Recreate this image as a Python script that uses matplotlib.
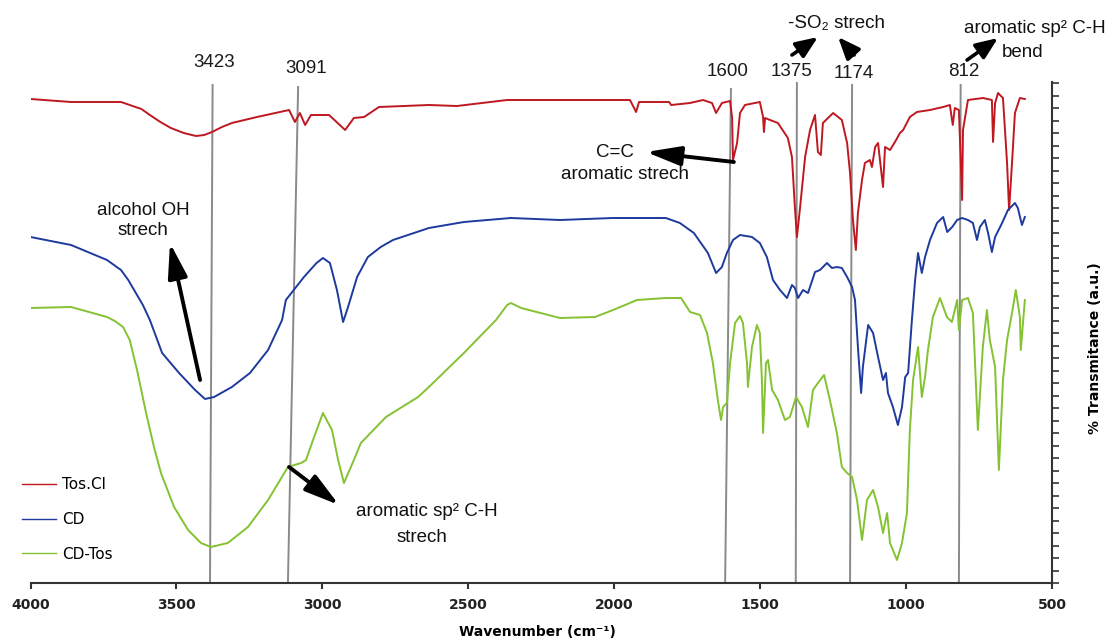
import numpy as np
import matplotlib
matplotlib.use('Agg')
import matplotlib.pyplot as plt
from matplotlib.lines import Line2D

# ---------------- data (wavenumber cm-1, transmittance a.u.) ----------------
red_wn = [4000, 3861, 3690, 3620, 3591, 3555, 3519, 3475, 3433, 3405, 3378, 3344, 3310, 3224,
          3114, 3094, 3077, 3059, 3039,
          2977, 2922, 2892, 2857, 2806, 2635, 2539, 2367, 2186, 1946, 1925, 1915, 1812, 1805,
          1740, 1696, 1665, 1651, 1631, 1603, 1596, 1593, 1579, 1569, 1552, 1501, 1490, 1487,
          1483, 1466, 1439, 1405, 1391, 1381, 1374, 1363, 1346, 1329, 1312, 1302, 1292, 1285,
          1250, 1220, 1202, 1192, 1182, 1172, 1165, 1151, 1141, 1124, 1117, 1106, 1096, 1079,
          1072, 1055, 1038, 1021, 1010, 987, 963, 918, 873, 850, 840, 833, 819, 808, 805, 788,
          736, 706, 702, 695, 685, 668, 654, 647, 637, 627, 610, 593]
red_t = [484, 481, 481, 474, 468, 461, 455, 450, 447, 448, 451, 456, 460, 466,
         473, 461, 470, 458, 468,
         468, 453, 465, 466, 476, 478, 477, 483, 483, 483, 471, 481, 481, 478,
         480, 483, 480, 470, 480, 482, 465, 423, 440, 470, 478, 481, 466, 451,
         465, 463, 460, 445, 426, 376, 346, 376, 426, 453, 468, 431, 428, 460,
         470, 463, 440, 410, 363, 333, 370, 403, 420, 423, 416, 436, 440, 396,
         436, 433, 441, 450, 453, 466, 471, 473, 476, 478, 458, 475, 473, 383, 453, 483,
         485, 483, 441, 480, 490, 485, 420, 373, 420, 470, 485, 484]

blue_wn = [4000, 3861, 3738, 3690, 3665, 3639, 3615, 3591, 3549, 3491, 3436, 3402, 3371, 3310,
           3248, 3186, 3138, 3125, 3063, 3020, 2998, 2974, 2950, 2929, 2912, 2881, 2844, 2800,
           2758, 2635, 2515, 2354,
           2186, 2004, 1823, 1775, 1727, 1679, 1651, 1631, 1614, 1593, 1569, 1528, 1501, 1477,
           1456, 1432, 1408, 1391, 1381, 1370, 1353, 1336, 1312, 1295, 1271, 1254, 1237, 1220,
           1202, 1185, 1175, 1165, 1154, 1148, 1130, 1113, 1096, 1079, 1069, 1062, 1045, 1028,
           1014, 1003, 993, 980, 969, 959, 946, 935, 918, 894, 873, 859, 842, 825, 808, 788,
           771, 757, 747, 730, 719, 706, 695, 671, 651, 627, 617, 603, 593]
blue_t = [346, 338, 323, 313, 303, 290, 278, 263, 230, 210, 193, 184, 186, 196,
          210, 233, 263, 283, 306, 320, 325, 320, 293, 261, 276, 306, 326, 336,
          343, 355, 361, 365,
          363, 365, 365, 360, 350, 330, 310, 316, 330, 343, 348, 346, 340, 326,
          303, 293, 285, 298, 295, 285, 293, 290, 311, 313, 320, 315, 316, 315,
          306, 296, 283, 236, 190, 216, 258, 250, 226, 203, 210, 190, 176, 158,
          176, 206, 210, 263, 303, 330, 310, 326, 343, 360, 366, 351, 356, 363, 365, 363,
          360, 343, 356, 363, 350, 331, 346, 360, 373, 380, 375, 358, 366]

green_wn = [4000, 3861, 3738, 3711, 3683, 3660, 3635, 3604, 3577, 3553, 3508, 3460, 3416, 3382,
            3324, 3255, 3186, 3118, 3073, 3056, 3032, 2998, 2967, 2946, 2926, 2892, 2868, 2782,
            2672, 2635,
            2515, 2405, 2367, 2354, 2319, 2186, 2066, 2004, 1922, 1823, 1771, 1740, 1706, 1682,
            1662, 1645, 1634, 1627, 1614, 1603, 1586, 1569, 1559, 1545, 1542, 1528, 1511, 1501,
            1494, 1490, 1480, 1473, 1459, 1439, 1415, 1398, 1377, 1357, 1336, 1319, 1302, 1281,
            1261, 1237, 1220, 1202, 1185, 1168, 1151, 1134, 1113, 1096, 1079, 1065, 1055, 1031,
            1014, 997, 987, 976, 959, 946, 935, 925, 908, 884, 860, 843, 825, 819, 808, 788,
            771, 754, 737, 723, 713, 695, 682, 668, 654, 637, 624, 610, 607, 593]
green_t = [275, 276, 266, 262, 256, 243, 213, 170, 136, 110, 76, 53, 40, 36,
           40, 56, 83, 116, 120, 123, 143, 170, 153, 123, 100, 123, 140, 166,
           186, 196,
           230, 263, 278, 280, 275, 265, 266, 273, 283, 285, 285, 271, 268, 250,
           220, 183, 163, 176, 180, 220, 260, 267, 260, 220, 196, 236, 258, 250,
           203, 150, 220, 223, 193, 183, 163, 166, 186, 176, 156, 193, 200, 208,
           183, 150, 116, 110, 106, 83, 43, 83, 93, 76, 50, 70, 40, 23,
           40, 70, 153, 203, 236, 186, 206, 233, 266, 285, 266, 261, 283, 253, 283, 285,
           270, 153, 236, 273, 243, 216, 113, 203, 243, 270, 293, 266, 233, 283]

series_names = ['Tos.Cl', 'CD', 'CD-Tos']
series_colors = ['#bf1820', '#1d3a9c', '#84c232']

peak_labels = ['3423', '3091', '1600', '1375', '1174', '812']
peak_line_top_wn = [3376, 3083, 1600, 1374, 1185, 813]
peak_line_bottom_wn = [3385, 3118, 1620, 1378, 1192, 819]
peak_line_top_t = [498, 496, 494, 500, 498, 498]
peak_label_wn = [3371, 3056, 1610, 1391, 1178, 802]
peak_label_t = [521, 515, 511, 511, 509, 511]

x_ticks = [4000, 3500, 3000, 2500, 2000, 1500, 1000, 500]

# ---------------- figure ----------------
W, H = 1112, 641
fig = plt.figure(figsize=(W / 100, H / 100), dpi=100)
ax = fig.add_axes([30.5 / W, 58 / H, (1052 - 30.5) / W, 501 / H])

for wn, t, c in zip([red_wn, blue_wn, green_wn], [red_t, blue_t, green_t], series_colors):
    ax.plot(wn, t, color=c, lw=1.4, solid_joinstyle='round')

for xt, xb, yt in zip(peak_line_top_wn, peak_line_bottom_wn, peak_line_top_t):
    ax.plot([xt, xb], [yt, 0], color='#8a8a8a', lw=1.4, zorder=1)

sans = ['Liberation Sans', 'DejaVu Sans']
for lab, xw, yt in zip(peak_labels, peak_label_wn, peak_label_t):
    ax.text(xw, yt, lab, ha='center', va='center', fontsize=13.5, family=sans,
            color='#1a1a1a', clip_on=False)

ax.set_xlim(4000, 500)
ax.set_ylim(0, 501)
ax.set_xticks(x_ticks)
ax.set_xticklabels([str(v) for v in x_ticks], fontsize=10, fontweight='bold',
                   family='DejaVu Sans', color='#222222')
ax.yaxis.tick_right()
ax.set_yticks(np.arange(0, 502, 12.5))
ax.tick_params(axis='y', direction='out', length=5, width=1.2, labelright=False,
               color='#333333')
ax.tick_params(axis='x', direction='out', length=4, width=1.5, pad=7, color='#333333')
for s in ['left', 'top']:
    ax.spines[s].set_visible(False)
for s in ['bottom', 'right']:
    ax.spines[s].set_linewidth(1.5)
    ax.spines[s].set_color('#333333')

fig.text(537 / W, 1 - 632 / H, 'Wavenumber (cm⁻¹)', ha='center', va='center',
         fontsize=10, fontweight='bold', family='DejaVu Sans')
fig.text(1095 / W, 1 - 348 / H, '% Transmitance (a.u.)', ha='center', va='center',
         rotation=90, fontsize=10, fontweight='bold', family='DejaVu Sans')

# ---------------- annotations ----------------
big_arrow = dict(arrowstyle='-|>,head_length=1.5,head_width=0.42', lw=2.8, color='black',
                 mutation_scale=14, shrinkA=0, shrinkB=0)
small_arrow = dict(arrowstyle='-|>,head_length=1.1,head_width=0.45', lw=2.6, color='black',
                   mutation_scale=12, shrinkA=0, shrinkB=0)


def arrow(tail, head, style=big_arrow):
    ax.annotate('', xy=head, xytext=tail, xycoords='data', textcoords='data',
                arrowprops=style, annotation_clip=False)


def label(x, y, s):
    ax.text(x, y, s, ha='center', va='center', fontsize=13.5, family=sans,
            color='#111111', clip_on=False)


label(3615, 373, 'alcohol OH')
label(3615, 353, 'strech')
arrow((3419, 203), (3522, 340))

label(1997, 431, 'C=C')
label(1963, 409, 'aromatic strech')
arrow((1590, 421), (1891, 431))

label(1240, 560, '-SO₂ strech')
arrow((1391, 528), (1302, 546), small_arrow)
arrow((1178, 528), (1233, 546), small_arrow)

label(558, 555, 'aromatic sp² C-H')
label(599, 531, 'bend')
arrow((791, 523), (685, 545), small_arrow)

label(2641, 71, 'aromatic sp² C-H')
label(2658, 46, 'strech')
arrow((3114, 116), (2943, 78))

handles = [Line2D([], [], color=c, lw=1.0) for c in series_colors]
ax.legend(handles, series_names, loc='upper left', bbox_to_anchor=(22 / W, 1 - 477 / H),
          bbox_transform=fig.transFigure, frameon=False,
          prop={'family': 'DejaVu Sans', 'size': 11},
          handlelength=2.2, handletextpad=0.4, labelspacing=1.3,
          borderpad=0, borderaxespad=0)

fig.savefig('out.png', dpi=100)
